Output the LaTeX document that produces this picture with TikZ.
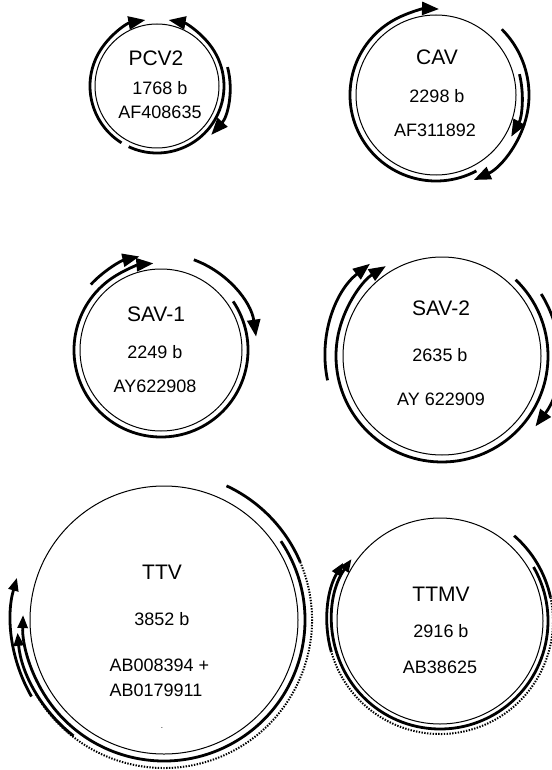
\documentclass[tikz,border=0pt]{standalone}
\usepackage{fontspec}
\setmainfont{Liberation Sans}
\usetikzlibrary{arrows.meta}

\tikzset{
  genome/.style={line width=1pt},
  orf/.style={line width=2.8pt},
  splice/.style={line width=2pt, dash pattern=on 1.4pt off 1.4pt},
  smalltip/.style={>={Triangle[length=13pt,width=10pt]}},
  virus/.style={font=\fontsize{21}{24}\selectfont},
  info/.style={font=\fontsize{18}{21}\selectfont},
}

\begin{document}
\begin{tikzpicture}[x=1pt, y=1pt, >={Triangle[length=17pt,width=13pt]}]
\useasboundingbox (0,0) rectangle (551,-770);

% centres of the genome maps
\coordinate (pcv) at (157,-86);
\coordinate (cav) at (436,-95);
\coordinate (savone) at (161,-350);
\coordinate (savtwo) at (442,-356);
\coordinate (ttv) at (164,-620);
\coordinate (ttmv) at (440,-621);

% 1. PCV2
\draw[genome] (pcv) circle[radius=62];
\draw[orf,->] ([shift={(238:67)}]pcv) arc[start angle=238, end angle=100, radius=67];
\draw[orf,->] ([shift={(-115:67)}]pcv) arc[start angle=-115, end angle=80, radius=67];
\draw[orf,->] ([shift={(15:73)}]pcv) arc[start angle=15, end angle=-42, radius=73];
\node[virus] (pcvname) at (156,-58) {PCV2};
\node[info] (pcvsize) at (160,-88) {1768 b};
\node[info] (pcvacc) at (160,-112) {AF408635};

% 2. CAV
\draw[genome] (cav) circle[radius=80];
\draw[orf,->] ([shift={(-62:86)}]cav) arc[start angle=-62, end angle=-272, radius=86];
\draw[orf,->] ([shift={(45:93)}]cav) arc[start angle=45, end angle=-66, radius=93];
\draw[orf,->] ([shift={(14:86)}]cav) arc[start angle=14, end angle=-29, radius=86];
\node[virus] (cavname) at (437,-57) {CAV};
\node[info] (cavsize) at (437,-96) {2298 b};
\node[info] (cavacc) at (435,-130) {AF311892};

% 3. SAV-1
\draw[genome] (savone) circle[radius=81];
\draw[orf,->] ([shift={(34:87)}]savone) arc[start angle=34, end angle=-265, radius=87];
\draw[orf,->] ([shift={(137:96)}]savone) arc[start angle=137, end angle=103, radius=96];
\draw[orf,->] ([shift={(70:96)}]savone) arc[start angle=70, end angle=8, radius=96];
\node[virus] (savonename) at (156,-314) {SAV-1};
\node[info] (savonesize) at (155,-352) {2249 b};
\node[info] (savoneacc) at (155,-386) {AY622908};

% 4. SAV-2
\draw[genome] (savtwo) circle[radius=99];
\draw[orf,->] ([shift={(46:106)}]savtwo) arc[start angle=46, end angle=-238, radius=106];
\draw[orf,->] ([shift={(192:117)}]savtwo) arc[start angle=192, end angle=128, radius=117];
\draw[orf,->] ([shift={(32:117)}]savtwo) arc[start angle=32, end angle=-37, radius=117];
\node[virus] (savtwoname) at (441,-308) {SAV-2};
\node[info] (savtwosize) at (440,-355) {2635 b};
\node[info] (savtwoacc) at (441,-399) {AY 622909};

% 5. TTV
\draw[genome] (ttv) circle[radius=134];
\draw[orf,->,smalltip] ([shift={(34:141)}]ttv) arc[start angle=34, end angle=-182, radius=141];
\draw[orf] ([shift={(65:148)}]ttv) arc[start angle=65, end angle=23, radius=148];
\draw[splice] ([shift={(23:148)}]ttv) arc[start angle=23, end angle=-150, radius=148];
\draw[orf,->,smalltip] ([shift={(-150:153)}]ttv) arc[start angle=-150, end angle=-196, radius=153];
\draw[orf,->,smalltip] ([shift={(-128:147)}]ttv) arc[start angle=-128, end angle=-175, radius=147];
\node[virus] (ttvname) at (162,-572) {TTV};
\node[info] (ttvsize) at (162,-619) {3852 b};
\node[info, anchor=west] (ttvacc) at (106,-665) {AB008394 +};
\node[info, anchor=west] (ttvaccb) at (106,-690) {AB0179911};
\node[font=\fontsize{8}{8}\selectfont] (ttvdot) at (162,-728) {.};

% 6. TTMV
\draw[genome] (ttmv) circle[radius=103];
\draw[orf,->,smalltip] ([shift={(30:108)}]ttmv) arc[start angle=30, end angle=-215, radius=108];
\draw[orf] ([shift={(49:113)}]ttmv) arc[start angle=49, end angle=12, radius=113];
\draw[splice] ([shift={(12:113)}]ttmv) arc[start angle=12, end angle=-164, radius=113];
\draw[orf,->,smalltip] ([shift={(-164:113)}]ttmv) arc[start angle=-164, end angle=-211, radius=113];
\node[virus] (ttmvname) at (441,-594) {TTMV};
\node[info] (ttmvsize) at (441,-631) {2916 b};
\node[info] (ttmvacc) at (440,-667) {AB38625};

\end{tikzpicture}
\end{document}
